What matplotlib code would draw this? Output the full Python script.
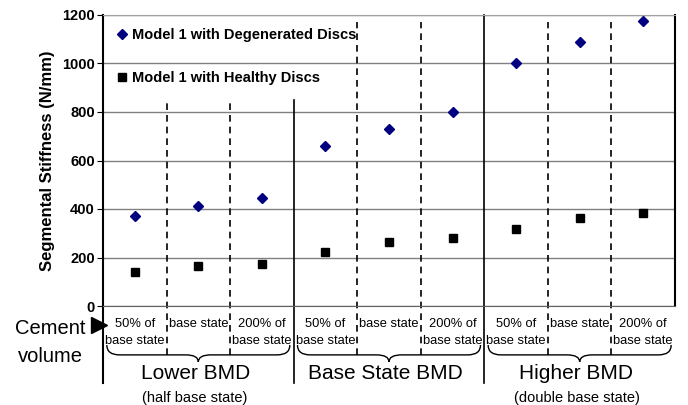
import matplotlib
matplotlib.use('Agg')
import matplotlib.pyplot as plt
import matplotlib.transforms as mtransforms
from matplotlib.path import Path
from matplotlib.patches import PathPatch

plt.rcParams['font.family'] = ['Liberation Sans', 'DejaVu Sans']

# data
cement_labels = ['50% of\nbase state', 'base state', '200% of\nbase state'] * 3
groups = ['Lower BMD', 'Base State BMD', 'Higher BMD']
group_notes = ['(half base state)', '', '(double base state)']
degenerated = [372, 411, 446, 661, 728, 799, 1002, 1090, 1174]
healthy = [140, 165, 174, 224, 265, 282, 316, 362, 382]

W, H = 688, 405
fig = plt.figure(figsize=(W / 100, H / 100), dpi=100)
ax = fig.add_axes([103 / W, 1 - 306 / H, 572 / W, 291 / H])

x = list(range(len(degenerated)))
ax.plot(x, degenerated, 'D', color='#000080', ms=5.5, label='Model 1 with Degenerated Discs')
ax.plot(x, healthy, 's', color='black', ms=6, label='Model 1 with Healthy Discs')

ax.set_xlim(-0.5, 8.5)
ax.set_ylim(0, 1200)
ax.set_yticks(range(0, 1201, 200))
ax.set_xticks([])
for t in ax.get_yticklabels():
    t.set_fontweight('bold')
    t.set_fontsize(10.5)
ax.tick_params(axis='y', length=4, pad=2)
ax.yaxis.grid(True, color='#808080', lw=1)
ax.set_axisbelow(True)
ax.set_ylabel('Segmental Stiffness (N/mm)', fontsize=12, fontweight='bold', labelpad=5)
ax.spines['top'].set_color('#a0a0a0')
ax.spines['bottom'].set_color('#606060')
ax.spines['left'].set_linewidth(1.5)
ax.spines['right'].set_linewidth(1.5)

leg = ax.legend(loc='upper left', bbox_to_anchor=(0.0, 1.005), frameon=False,
                prop={'weight': 'bold', 'size': 10.5}, handlelength=0.6,
                handletextpad=0.4, labelspacing=2.0, borderaxespad=0.6)

trans = mtransforms.blended_transform_factory(ax.transData, ax.transAxes)
# vertical separators
for i in range(1, 9):
    xb = i - 0.5
    ytop = 0.708 if xb < 2.6 else 0.975
    if i % 3 == 0:
        ax.plot([xb, xb], [-0.265, 1.0 if xb > 3 else ytop], color='black', lw=1.2,
                transform=trans, clip_on=False)
    else:
        ax.plot([xb, xb], [-0.168, ytop], color='black', lw=1.2, ls=(0, (4, 3)),
                transform=trans, clip_on=False)
ax.plot([-0.5, -0.5], [-0.265, 0], color='black', lw=1.5, transform=trans, clip_on=False)

# category labels
for i, lab in enumerate(cement_labels):
    ax.text(i, -0.04, lab, transform=trans, ha='center', va='top', fontsize=9.3,
            linespacing=1.65)

# braces and group labels
yt, ym, yp, d = -0.134, -0.168, -0.192, 0.2
for g, (name, note) in enumerate(zip(groups, group_notes)):
    x0, x1, xc = 3 * g - 0.44, 3 * g + 2.44, 3 * g + 1
    verts = [(x0, yt), (x0, ym), (x0 + d, ym), (xc - d, ym), (xc, ym), (xc, yp),
             (xc, ym), (xc + d, ym), (x1 - d, ym), (x1, ym), (x1, yt)]
    codes = [Path.MOVETO, Path.CURVE3, Path.CURVE3, Path.LINETO, Path.CURVE3, Path.CURVE3,
             Path.CURVE3, Path.CURVE3, Path.LINETO, Path.CURVE3, Path.CURVE3]
    patch = PathPatch(Path(verts, codes), fill=False, lw=1, edgecolor='black',
                      transform=trans, clip_on=False)
    ax.add_patch(patch)
    ax.text(xc - 0.05, -0.232, name, transform=trans, ha='center', va='center', fontsize=15)
    if note:
        ax.text(xc - 0.05, -0.315, note, transform=trans, ha='center', va='center', fontsize=10.5)

# cement volume marker
ax.plot([-0.56], [-0.065], '>', color='black', ms=12, transform=trans, clip_on=False)
fig.text(50 / W, 1 - 328 / H, 'Cement', ha='center', va='center', fontsize=14.5)
fig.text(50 / W, 1 - 357 / H, 'volume', ha='center', va='center', fontsize=14.5)

fig.savefig('out.png', dpi=100)
